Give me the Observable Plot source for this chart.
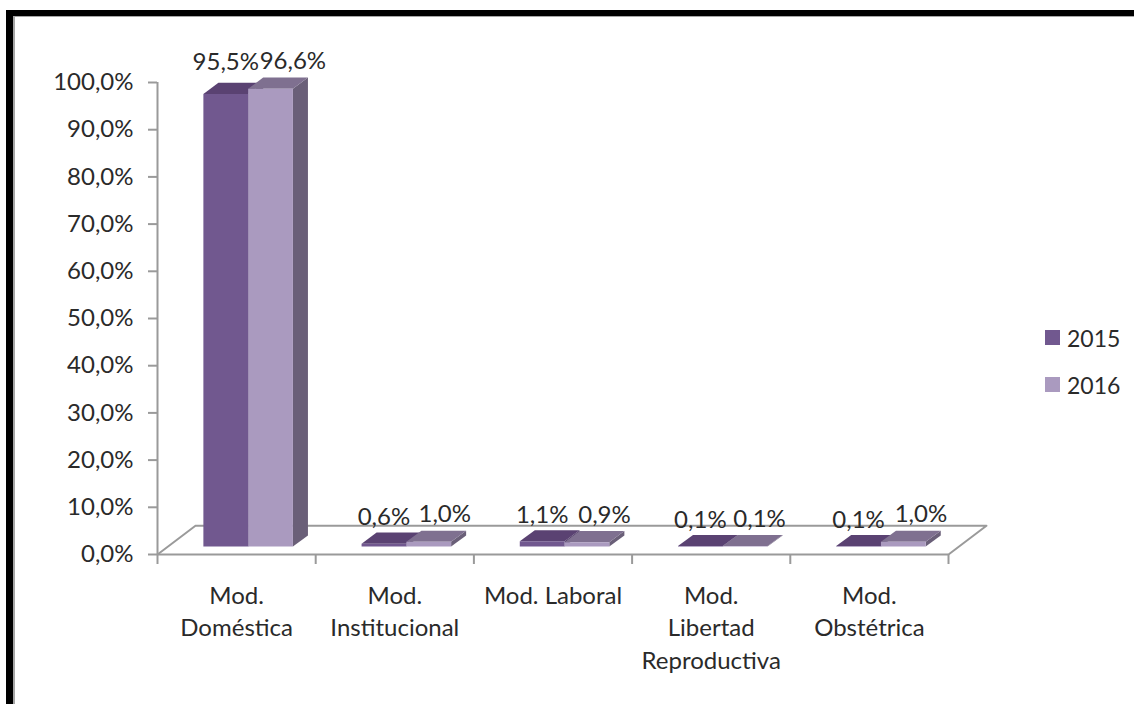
<!DOCTYPE html>
<html>
<head>
<meta charset="utf-8">
<script src="https://cdn.jsdelivr.net/npm/d3@7"></script>
<script src="https://cdn.jsdelivr.net/npm/@observablehq/plot@0.6"></script>
<style>
html,body{margin:0;padding:0;background:#fff;overflow:hidden;width:1134px;height:704px}
#frame{position:absolute;left:6px;top:10px;width:1200px;height:800px;box-sizing:border-box;border-left:7px solid #000;border-top:6px solid #000}
#frame:before{content:"";position:absolute;left:0;top:0;width:100%;height:100%;border-left:2px solid #a6a6a6;border-top:1px solid #a6a6a6}
#chart{position:absolute;left:0;top:0}
#legend{position:absolute;left:1045px;top:314px;font:23px Lato,sans-serif;color:#2a2a2a}
#legend div{display:flex;align-items:center;height:47px}
#legend i{display:inline-block;width:15px;height:15px;margin-right:7px}
</style>
</head>
<body>
<div id="frame"></div>
<div id="chart"></div>
<div id="legend"></div>
<script>
const categories = ["Mod.\nDoméstica", "Mod.\nInstitucional", "Mod. Laboral", "Mod.\nLibertad\nReproductiva", "Mod.\nObstétrica"];
const values2015 = [95.5, 0.6, 1.1, 0.1, 0.1];
const values2016 = [96.6, 1.0, 0.9, 0.1, 1.0];
const seriesNames = ["2015", "2016"];
const yTicks = [0, 10, 20, 30, 40, 50, 60, 70, 80, 90, 100];
const xTicks = [0, 1, 2, 3, 4, 5];
const frontColors = ["#71588f", "#aa9abf"];
const topColors = ["#5a4272", "#7f7090"];
const sideColors = ["#4f3c66", "#6a5f78"];
const labelNudgeX = [0.04, 0, 0.01, -0.01, 0.01];
const labelRaise2015 = [1.1, 0, 0, 0, 0];

const barStart = 0.29, barWidth = 0.283;
const base = 1.7, depthX = 0.095, depthY = 2.35, barScale = 1.004;
const floorX = 0.24, floorY = 6.1;
const axisColor = "#9a9a9a";
const comma = v => v.toFixed(1).replace(".", ",") + "%";

const polys = [];
const bars = [];
[values2015, values2016].forEach((vals, s) => {
  vals.forEach((v, i) => {
    const x0 = i + barStart + s * barWidth, x1 = x0 + barWidth;
    const y0 = base, y1 = base + v * barScale;
    bars.push({s, i, v, cx: (x0 + x1) / 2, topY: y1 + depthY});
    const face = (name, fill, pts) => pts.forEach(([x, y]) => polys.push({id: `${s}-${i}-${name}`, fill, x, y}));
    face("side", sideColors[s], [[x1, y0], [x1 + depthX, y0 + depthY], [x1 + depthX, y1 + depthY], [x1, y1]]);
    face("top", topColors[s], [[x0, y1], [x0 + depthX, y1 + depthY], [x1 + depthX, y1 + depthY], [x1, y1]]);
    face("front", frontColors[s], [[x0, y0], [x1, y0], [x1, y1], [x0, y1]]);
  });
});
const floor = [[0, 0], [floorX, floorY], [5 + floorX, floorY], [5, 0]].map(([x, y]) => ({x, y}));

const fontFamily = "Lato, sans-serif";
const textColor = "#2a2a2a";
const fontSize = 24;

const plot = Plot.plot({
  width: 1134,
  height: 704,
  marginLeft: 157,
  marginRight: 186,
  marginTop: 82,
  marginBottom: 150,
  style: {background: "transparent", fontFamily, fontSize: fontSize + "px", color: textColor},
  x: {type: "linear", domain: [0, 5]},
  y: {type: "linear", domain: [0, 100]},
  marks: [
    Plot.line(floor, {x: "x", y: "y", stroke: axisColor, strokeWidth: 2, curve: "linear"}),
    Plot.ruleX([0], {stroke: axisColor, strokeWidth: 2}),
    Plot.ruleY([0], {stroke: axisColor, strokeWidth: 2}),
    Plot.axisY({ticks: yTicks, tickFormat: d => comma(d), tickSize: 9, tickPadding: 15, label: null, stroke: axisColor, strokeWidth: 2, fontSize, fill: textColor}),
    Plot.axisX({ticks: xTicks, tickFormat: () => "", tickSize: 10, label: null, stroke: axisColor, strokeWidth: 2}),
    Plot.line(polys, {x: "x", y: "y", z: "id", fill: "fill", stroke: null, curve: "linear"}),
    Plot.text(bars.filter(d => d.s === 0), {
      x: d => d.cx, y: d => d.topY + labelRaise2015[d.i], text: d => comma(d.v), dy: -15, fontSize, fill: textColor
    }),
    Plot.text(bars.filter(d => d.s === 1), {
      x: d => d.cx + labelNudgeX[d.i], y: d => d.topY, text: d => comma(d.v), dx: 16, dy: -16, fontSize, fill: textColor
    }),
    Plot.text(categories, {
      x: (d, i) => i + 0.5, y: () => 0, text: d => d, dy: 27, lineAnchor: "top", lineHeight: 1.34, fontSize, fill: textColor
    })
  ]
});
document.getElementById("chart").append(plot);

const legend = d3.select("#legend");
seriesNames.forEach((n, i) => {
  const row = legend.append("div");
  row.append("i").style("background", frontColors[i]);
  row.append("span").text(n);
});
</script>
</body>
</html>
